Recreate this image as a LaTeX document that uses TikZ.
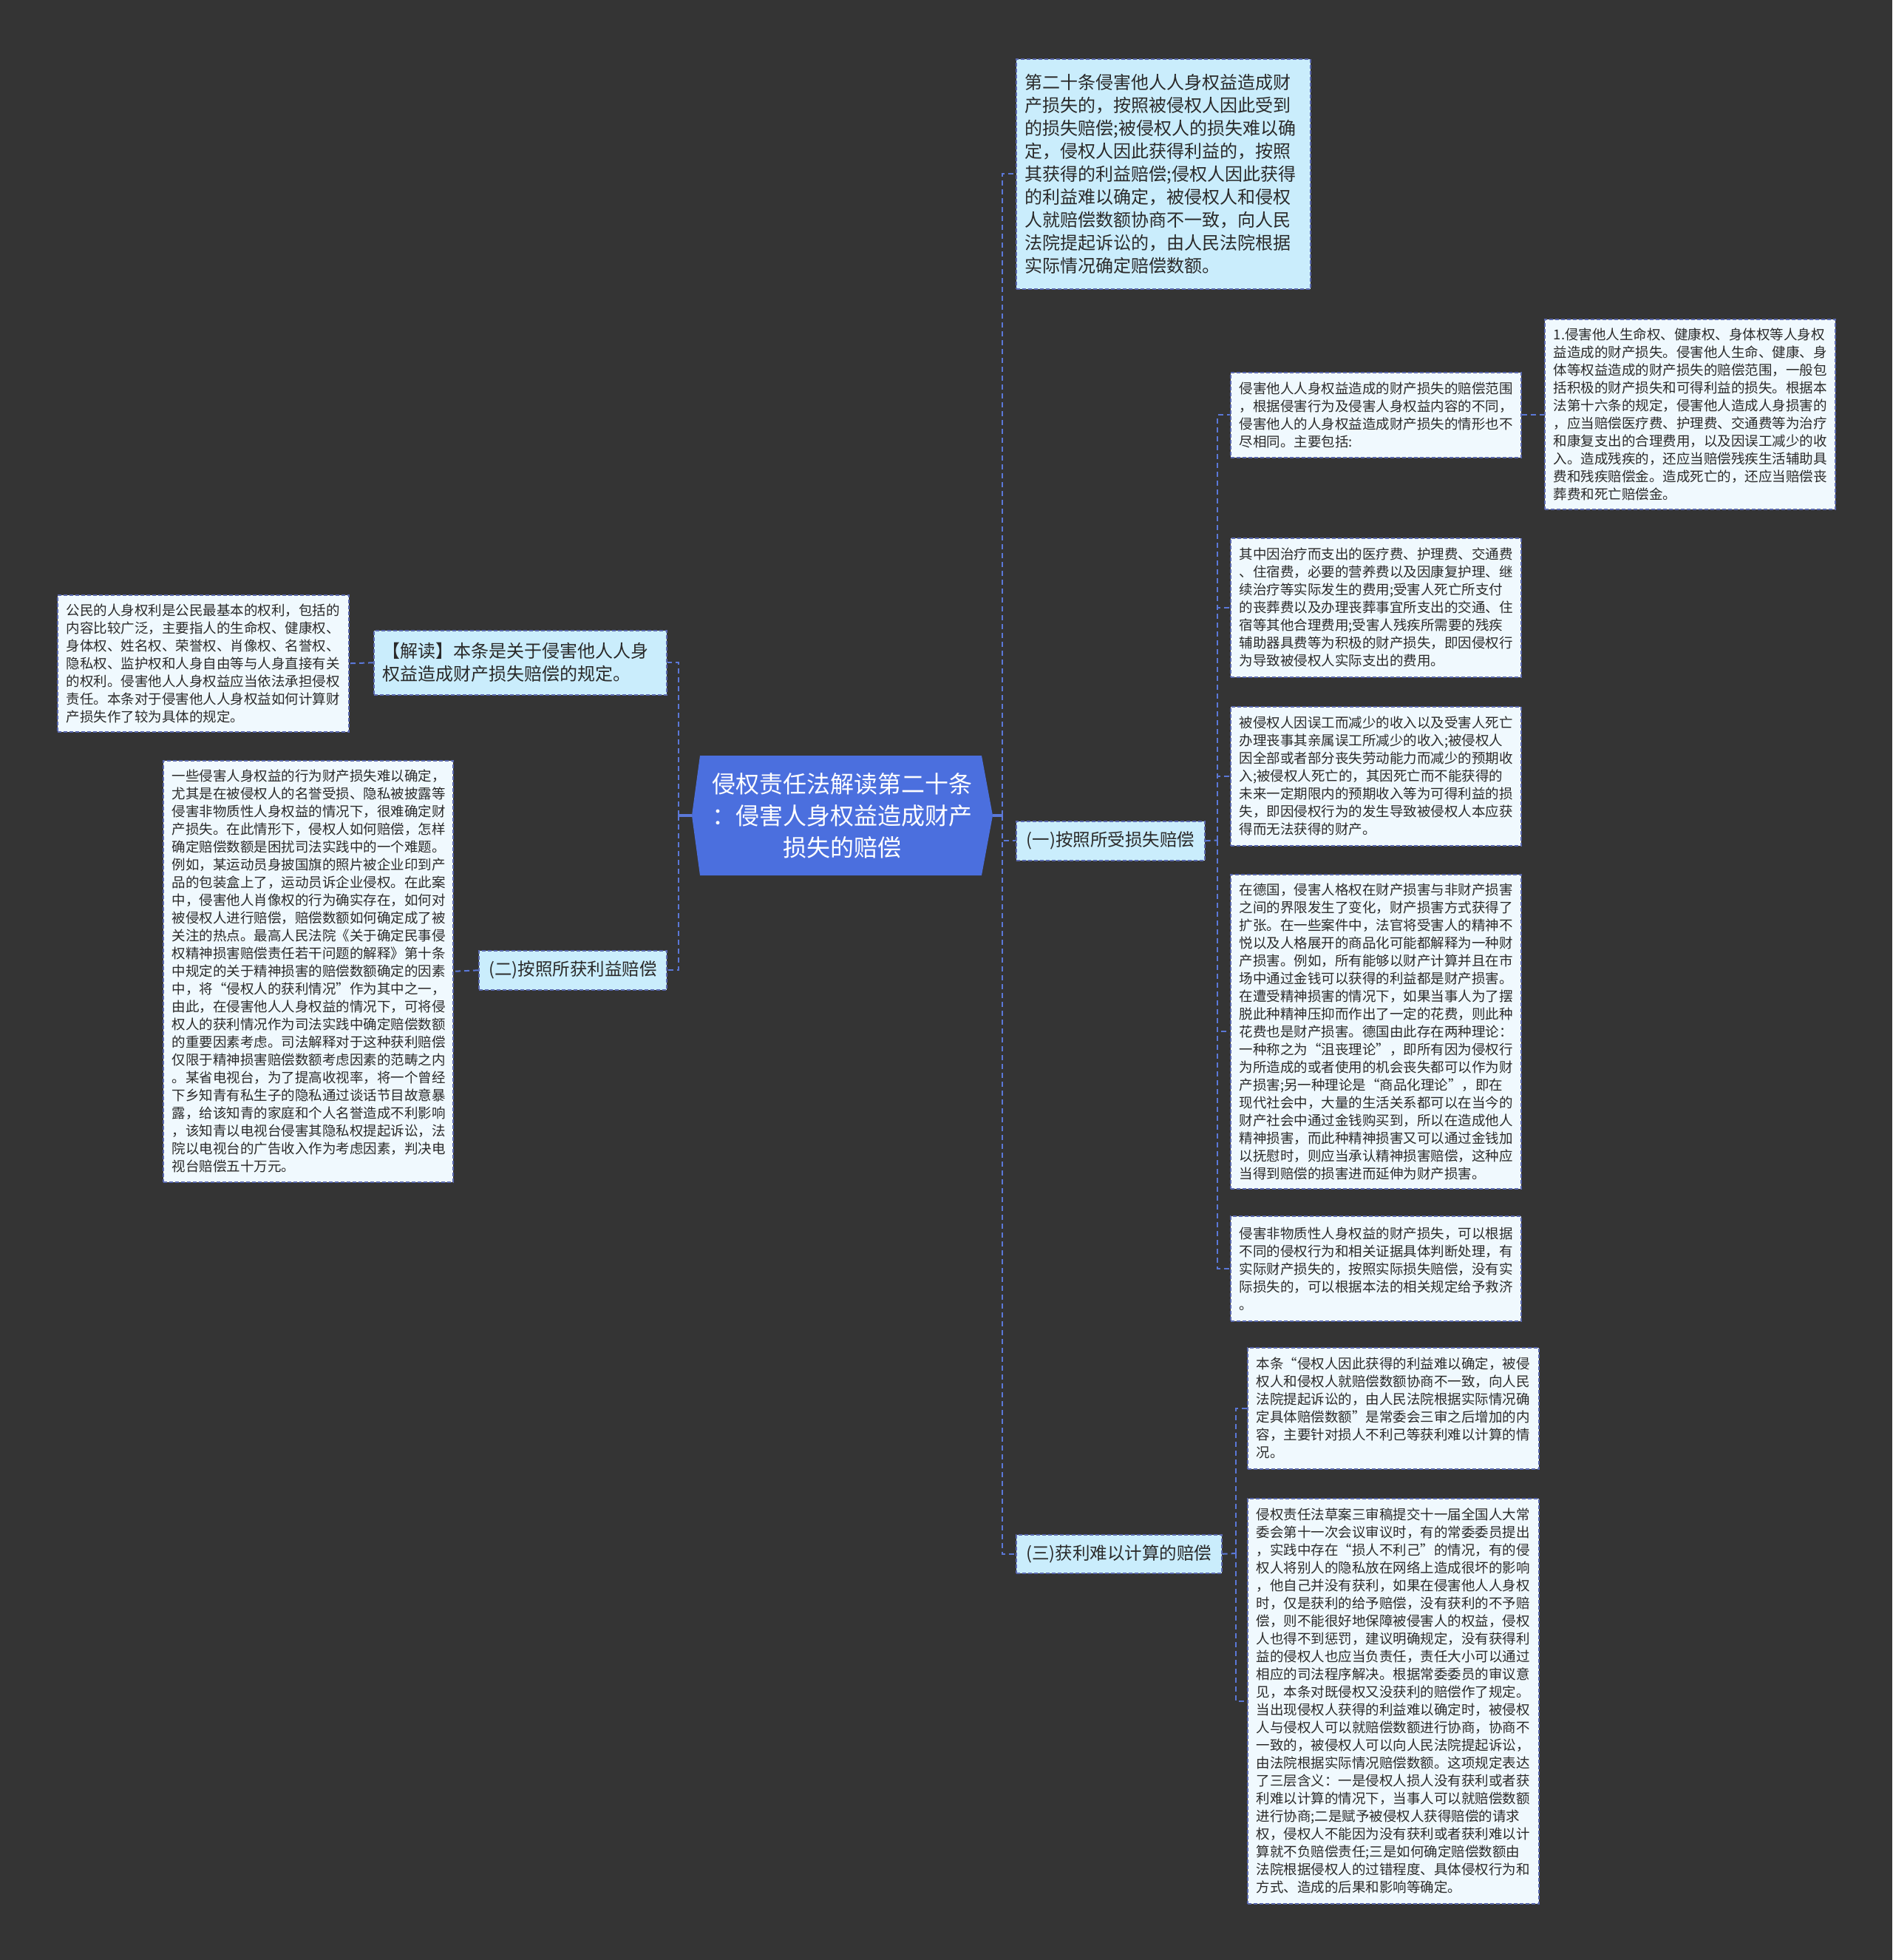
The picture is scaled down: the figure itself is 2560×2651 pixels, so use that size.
\documentclass[tikz,border=0pt]{standalone}
\usepackage{fontspec}
\setmainfont{Noto Sans CJK SC}
\newcommand{\fwq}[1]{{\addfontfeature{CharacterWidth=Full}#1}}
\definecolor{bgc}{HTML}{343434}
\definecolor{centerfill}{HTML}{4B6FDE}
\definecolor{midfill}{HTML}{CAEDFC}
\definecolor{leaffill}{HTML}{F0F9FE}
\definecolor{bordc}{HTML}{5A68AE}
\definecolor{connc}{HTML}{5B78D8}
\definecolor{txtc}{HTML}{2A2A2A}
\tikzset{
  boxbase/.style={draw=bordc, line width=1.6pt, dash pattern=on 5pt off 3pt,
    anchor=north west, inner xsep=12pt, inner ysep=0pt, text=txtc},
  leaf/.style={boxbase, fill=leaffill, align=left,
    font=\fontsize{18.5}{24}\selectfont},
  midbox/.style={boxbase, fill=midfill, align=left,
    font=\fontsize{24}{31}\selectfont},
  branch/.style={boxbase, fill=midfill, align=center, inner xsep=0pt,
    font=\fontsize{23.5}{30}\selectfont},
  wh/.style 2 args={minimum width=#1pt, minimum height=#2pt},
  conn/.style={draw=connc, line width=2pt, dash pattern=on 7pt off 5pt},
  stub/.style={draw=connc, line width=3.5pt},
  ctext/.style={text=white, align=center, inner sep=0pt,
    font=\fontsize{32}{43}\selectfont, minimum width=407pt, minimum height=162pt}
}
\begin{document}
\begin{tikzpicture}[x=1pt,y=-1pt]
\fill[bgc] (0,0) rectangle (2560,2651);
\useasboundingbox (0,0) rectangle (2560,2651);

% center hexagon
\fill[centerfill] (947,1022) -- (1328,1022) -- (1343,1103) -- (1328,1184) -- (947,1184) -- (936,1103) -- cycle;
\node[ctext] (c) at (1139.5,1103) {侵权责任法解读第二十条\\：侵害人身权益造成财产\\损失的赔偿};

% right side
\node[midbox, wh={398}{311}, text width=374pt] (T) at (1374,79) {第二十条侵害他人人身权益造成财\\产损失的，按照被侵权人因此受到\\的损失赔偿;被侵权人的损失难以确\\定，侵权人因此获得利益的，按照\\其获得的利益赔偿;侵权人因此获得\\的利益难以确定，被侵权人和侵权\\人就赔偿数额协商不一致，向人民\\法院提起诉讼的，由人民法院根据\\实际情况确定赔偿数额。};

\node[branch, wh={255}{53}] (br1) at (1374,1110) {(一)按照所受损失赔偿};
\node[branch, wh={278}{52}] (br3) at (1374,2075) {(三)获利难以计算的赔偿};

\node[leaf, wh={393}{115}, text width=369pt] (A1) at (1664,503) {侵害他人人身权益造成的财产损失的赔偿范围\\，根据侵害行为及侵害人身权益内容的不同，\\侵害他人的人身权益造成财产损失的情形也不\\尽相同。主要包括:};

\node[leaf, wh={393}{257}, text width=369pt] (A2) at (2089,431) {1.侵害他人生命权、健康权、身体权等人身权\\益造成的财产损失。侵害他人生命、健康、身\\体等权益造成的财产损失的赔偿范围，一般包\\括积极的财产损失和可得利益的损失。根据本\\法第十六条的规定，侵害他人造成人身损害的\\，应当赔偿医疗费、护理费、交通费等为治疗\\和康复支出的合理费用，以及因误工减少的收\\入。造成残疾的，还应当赔偿残疾生活辅助具\\费和残疾赔偿金。造成死亡的，还应当赔偿丧\\葬费和死亡赔偿金。};

\node[leaf, wh={393}{188}, text width=369pt] (B) at (1664,727) {其中因治疗而支出的医疗费、护理费、交通费\\、住宿费，必要的营养费以及因康复护理、继\\续治疗等实际发生的费用;受害人死亡所支付\\的丧葬费以及办理丧葬事宜所支出的交通、住\\宿等其他合理费用;受害人残疾所需要的残疾\\辅助器具费等为积极的财产损失，即因侵权行\\为导致被侵权人实际支出的费用。};

\node[leaf, wh={393}{188}, text width=369pt] (C) at (1664,955) {被侵权人因误工而减少的收入以及受害人死亡\\办理丧事其亲属误工所减少的收入;被侵权人\\因全部或者部分丧失劳动能力而减少的预期收\\入;被侵权人死亡的，其因死亡而不能获得的\\未来一定期限内的预期收入等为可得利益的损\\失，即因侵权行为的发生导致被侵权人本应获\\得而无法获得的财产。};

\node[leaf, wh={393}{425}, text width=369pt] (D) at (1664,1182) {在德国，侵害人格权在财产损害与非财产损害\\之间的界限发生了变化，财产损害方式获得了\\扩张。在一些案件中，法官将受害人的精神不\\悦以及人格展开的商品化可能都解释为一种财\\产损害。例如，所有能够以财产计算并且在市\\场中通过金钱可以获得的利益都是财产损害。\\在遭受精神损害的情况下，如果当事人为了摆\\脱此种精神压抑而作出了一定的花费，则此种\\花费也是财产损害。德国由此存在两种理论：\\一种称之为\fwq{“}沮丧理论\fwq{”}，即所有因为侵权行\\为所造成的或者使用的机会丧失都可以作为财\\产损害;另一种理论是\fwq{“}商品化理论\fwq{”}，即在\\现代社会中，大量的生活关系都可以在当今的\\财产社会中通过金钱购买到，所以在造成他人\\精神损害，而此种精神损害又可以通过金钱加\\以抚慰时，则应当承认精神损害赔偿，这种应\\当得到赔偿的损害进而延伸为财产损害。};

\node[leaf, wh={393}{142}, text width=369pt] (E) at (1664,1644) {侵害非物质性人身权益的财产损失，可以根据\\不同的侵权行为和相关证据具体判断处理，有\\实际财产损失的，按照实际损失赔偿，没有实\\际损失的，可以根据本法的相关规定给予救济\\。};

\node[leaf, wh={394}{164}, text width=370pt] (F) at (1687,1822) {本条\fwq{“}侵权人因此获得的利益难以确定，被侵\\权人和侵权人就赔偿数额协商不一致，向人民\\法院提起诉讼的，由人民法院根据实际情况确\\定具体赔偿数额\fwq{”}是常委会三审之后增加的内\\容，主要针对损人不利己等获利难以计算的情\\况。};

\node[leaf, wh={394}{548}, text width=370pt] (G) at (1687,2026) {侵权责任法草案三审稿提交十一届全国人大常\\委会第十一次会议审议时，有的常委委员提出\\，实践中存在\fwq{“}损人不利己\fwq{”}的情况，有的侵\\权人将别人的隐私放在网络上造成很坏的影响\\，他自己并没有获利，如果在侵害他人人身权\\时，仅是获利的给予赔偿，没有获利的不予赔\\偿，则不能很好地保障被侵害人的权益，侵权\\人也得不到惩罚，建议明确规定，没有获得利\\益的侵权人也应当负责任，责任大小可以通过\\相应的司法程序解决。根据常委委员的审议意\\见，本条对既侵权又没获利的赔偿作了规定。\\当出现侵权人获得的利益难以确定时，被侵权\\人与侵权人可以就赔偿数额进行协商，协商不\\一致的，被侵权人可以向人民法院提起诉讼，\\由法院根据实际情况赔偿数额。这项规定表达\\了三层含义：一是侵权人损人没有获利或者获\\利难以计算的情况下，当事人可以就赔偿数额\\进行协商;二是赋予被侵权人获得赔偿的请求\\权，侵权人不能因为没有获利或者获利难以计\\算就不负赔偿责任;三是如何确定赔偿数额由\\法院根据侵权人的过错程度、具体侵权行为和\\方式、造成的后果和影响等确定。};

% left side
\node[midbox, wh={396}{87}, text width=372pt] (J) at (505,852) {【解读】本条是关于侵害他人人身\\权益造成财产损失赔偿的规定。};
\node[branch, wh={254}{53}] (br2) at (647,1285) {(二)按照所获利益赔偿};

\node[leaf, wh={394}{185}, text width=370pt] (L1) at (77,804) {公民的人身权利是公民最基本的权利，包括的\\内容比较广泛，主要指人的生命权、健康权、\\身体权、姓名权、荣誉权、肖像权、名誉权、\\隐私权、监护权和人身自由等与人身直接有关\\的权利。侵害他人人身权益应当依法承担侵权\\责任。本条对于侵害他人人身权益如何计算财\\产损失作了较为具体的规定。};

\node[leaf, wh={392}{570}, text width=368pt] (L2) at (220,1028) {一些侵害人身权益的行为财产损失难以确定，\\尤其是在被侵权人的名誉受损、隐私被披露等\\侵害非物质性人身权益的情况下，很难确定财\\产损失。在此情形下，侵权人如何赔偿，怎样\\确定赔偿数额是困扰司法实践中的一个难题。\\例如，某运动员身披国旗的照片被企业印到产\\品的包装盒上了，运动员诉企业侵权。在此案\\中，侵害他人肖像权的行为确实存在，如何对\\被侵权人进行赔偿，赔偿数额如何确定成了被\\关注的热点。最高人民法院《关于确定民事侵\\权精神损害赔偿责任若干问题的解释》第十条\\中规定的关于精神损害的赔偿数额确定的因素\\中，将\fwq{“}侵权人的获利情况\fwq{”}作为其中之一，\\由此，在侵害他人人身权益的情况下，可将侵\\权人的获利情况作为司法实践中确定赔偿数额\\的重要因素考虑。司法解释对于这种获利赔偿\\仅限于精神损害赔偿数额考虑因素的范畴之内\\。某省电视台，为了提高收视率，将一个曾经\\下乡知青有私生子的隐私通过谈话节目故意暴\\露，给该知青的家庭和个人名誉造成不利影响\\，该知青以电视台侵害其隐私权提起诉讼，法\\院以电视台的广告收入作为考虑因素，判决电\\视台赔偿五十万元。};

% connectors
\coordinate (busR) at (1356,1103);
\coordinate (busL) at (918,1103);
\coordinate (bus1) at (1647,1136.5);
\coordinate (bus3) at (1672,2101);

\draw[stub] (c.east) -- (busR);
\draw[stub] (c.west) -- (busL);
\draw[conn] (busR) |- (T.west);
\draw[conn] (busR) |- (br1.west);
\draw[conn] (busR) |- (br3.west);
\draw[conn] (busL) |- (J.east);
\draw[conn] (busL) |- (br2.east);
\draw[conn] (J.west) -- (L1.east);
\draw[conn] (br2.west) -- (L2.east);

\draw[conn] (br1.east) -- (bus1);
\draw[conn] (bus1) |- (A1.west);
\draw[conn] (bus1) |- (B.west);
\draw[conn] (bus1) |- (C.west);
\draw[conn] (bus1) |- (D.west);
\draw[conn] (bus1) |- (E.west);
\draw[conn] (A1.east) -- (A2.west |- A1.east);

\draw[conn] (br3.east) -- (bus3);
\draw[conn] (bus3) |- (F.west);
\draw[conn] (bus3) |- (G.west);
\end{tikzpicture}
\end{document}
